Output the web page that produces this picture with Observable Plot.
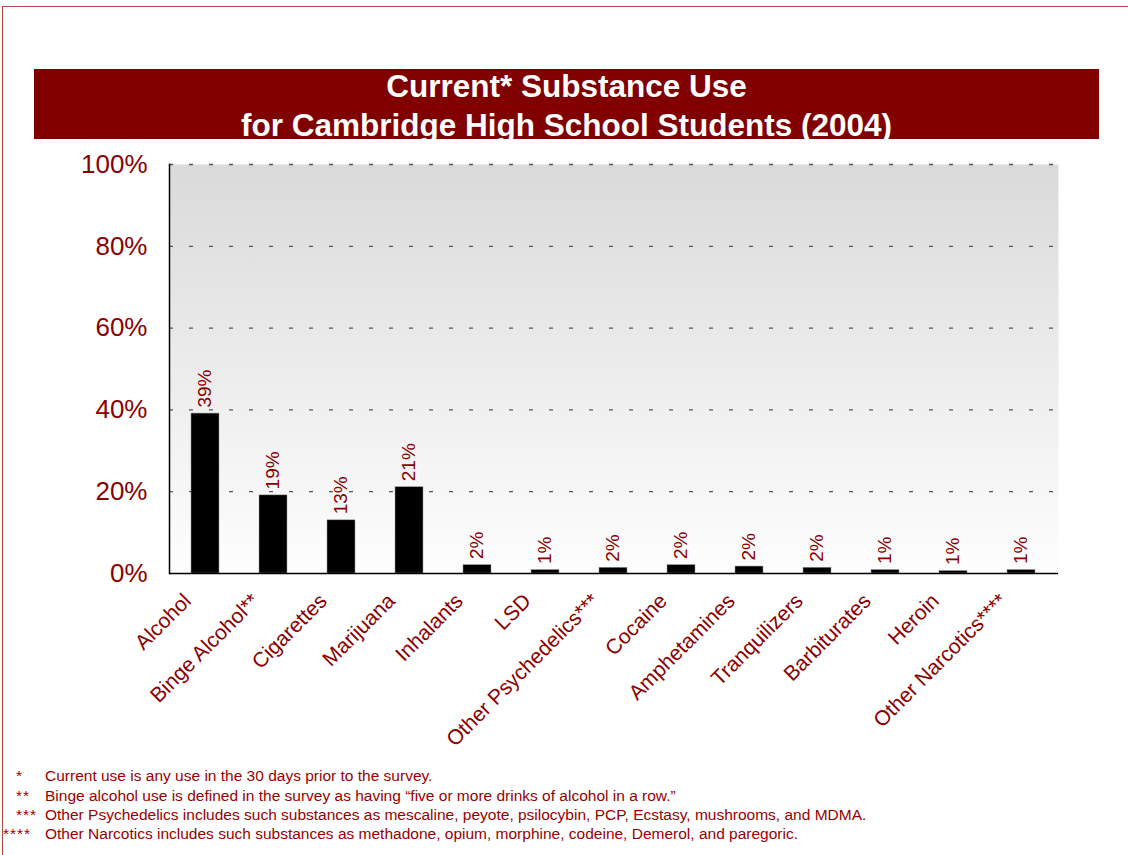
<!DOCTYPE html>
<html>
<head>
<meta charset="utf-8">
<script src="https://cdn.jsdelivr.net/npm/d3@7"></script>
<script src="https://cdn.jsdelivr.net/npm/@observablehq/plot@0.6"></script>
<style>
  html, body { margin: 0; padding: 0; background: #fff; }
  body { width: 1128px; height: 855px; position: relative; overflow: hidden; font-family: "Liberation Sans", Arial, sans-serif; }
  #border { position: absolute; left: 2px; top: 6px; right: -2px; bottom: -2px; border-top: 1px solid #b04848; border-left: 1px solid #b04848; }
  #band { position: absolute; left: 34px; top: 69px; width: 1065px; height: 70px; background: #800000; }
  #title { position: absolute; left: 34px; top: 67px; width: 1065px; text-align: center; color: #fff; font-weight: bold; font-size: 31.5px; line-height: 39px; }
  #chart { position: absolute; left: 0; top: 150px; }
  .fn { position: absolute; font-size: 15.5px; color: #990000; white-space: nowrap; line-height: 19px; }
</style>
</head>
<body>
<div id="border"></div>
<div id="band"></div>
<div id="title"></div>
<div id="chart"></div>
<div id="notes"></div>
<script>
// ---- data ----
const titleLines = ["Current* Substance Use", "for Cambridge High School Students (2004)"];
const categories = ["Alcohol", "Binge Alcohol**", "Cigarettes", "Marijuana", "Inhalants", "LSD",
  "Other Psychedelics***", "Cocaine", "Amphetamines", "Tranquilizers", "Barbiturates", "Heroin", "Other Narcotics****"];
const values = [39.1, 19.1, 13.0, 21.1, 2.05, 0.85, 1.4, 2.05, 1.7, 1.4, 0.85, 0.6, 0.85];
const valueLabels = ["39%", "19%", "13%", "21%", "2%", "1%", "2%", "2%", "2%", "2%", "1%", "1%", "1%"];
const yTicks = [0, 20, 40, 60, 80, 100];
const footnoteMarks = ["*", "**", "***", "****"];
const footnoteTexts = [
  "Current use is any use in the 30 days prior to the survey.",
  "Binge alcohol use is defined in the survey as having \u201cfive or more drinks of alcohol in a row.\u201d",
  "Other Psychedelics includes such substances as mescaline, peyote, psilocybin, PCP, Ecstasy, mushrooms, and MDMA.",
  "Other Narcotics includes such substances as methadone, opium, morphine, codeine, Demerol, and paregoric."
];

// ---- title ----
document.getElementById("title").innerHTML = titleLines.join("<br>");

// ---- chart ----
const red = "#8b0000";
const data = categories.map((c, i) => ({category: c, value: values[i], label: valueLabels[i]}));

const defs = () => {
  const d = d3.create("svg:defs");
  const g = d.append("linearGradient").attr("id", "bgGrad")
    .attr("x1", 0).attr("y1", 0).attr("x2", 0).attr("y2", 1);
  g.append("stop").attr("offset", "0%").attr("stop-color", "#dadada");
  g.append("stop").attr("offset", "100%").attr("stop-color", "#fefefe");
  return d.node();
};

const chart = Plot.plot({
  width: 1100,
  height: 603,
  marginLeft: 169,
  marginRight: 42,
  marginTop: 14,
  marginBottom: 180,
  style: {fontFamily: "'Liberation Sans', Arial, sans-serif", background: "transparent", overflow: "visible"},
  x: {domain: categories, paddingInner: 0.586, paddingOuter: 0.293, label: null},
  y: {domain: [0, 100], label: null},
  marks: [
    defs,
    Plot.frame({fill: "url(#bgGrad)", stroke: null}),
    Plot.ruleY(yTicks.filter(d => d > 0), {stroke: "#555", strokeWidth: 1.3, strokeDasharray: "4,16"}),
    Plot.barY(data, {x: "category", y: "value", fill: "#000", stroke: "#999", strokeWidth: 0.5}),
    Plot.text(data, {x: "category", y: "value", text: "label", rotate: -90, textAnchor: "start",
      dy: -6, dx: -1, fill: red, fontSize: 19}),
    Plot.axisY({ticks: yTicks, tickFormat: d => d + "%", tickSize: 0, tickPadding: 22,
      fontSize: 26, color: red, label: null}),
    Plot.axisX({tickRotate: -45, tickSize: 0, tickPadding: 24, dx: -18, fontSize: 21, color: red, label: null}),
    Plot.frame({anchor: "left", stroke: "#000", strokeWidth: 1.5}),
    Plot.ruleY([0], {stroke: "#000", strokeWidth: 1.5})
  ]
});
document.getElementById("chart").appendChild(chart);

// ---- footnotes ----
const notes = document.getElementById("notes");
const noteTops = [766, 786, 805, 824];
footnoteTexts.forEach((t, i) => {
  const m = document.createElement("div");
  m.className = "fn";
  m.style.left = (footnoteMarks[i].length < 4 ? 16 : 3) + "px";
  m.style.top = noteTops[i] + "px";
  m.style.letterSpacing = "1px";
  m.textContent = footnoteMarks[i];
  notes.appendChild(m);
  const d = document.createElement("div");
  d.className = "fn"; d.style.left = "45px"; d.style.top = noteTops[i] + "px";
  d.textContent = t;
  notes.appendChild(d);
});
</script>
</body>
</html>
